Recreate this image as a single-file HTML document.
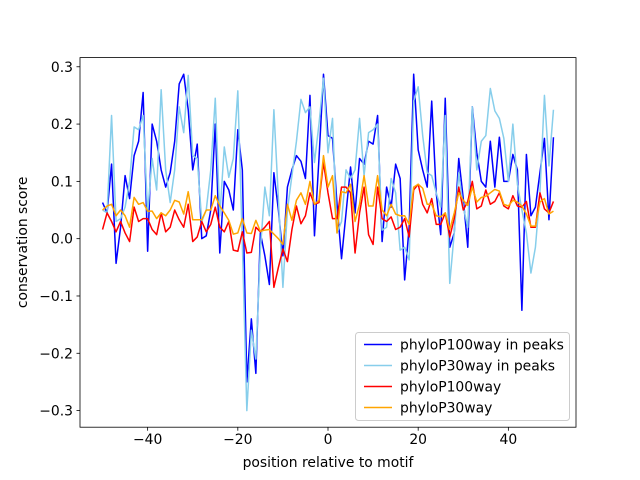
<!DOCTYPE html>
<html><head><meta charset="utf-8"><style>body{margin:0;background:#fff}svg{display:block;font-family:"DejaVu Sans","Liberation Sans",sans-serif}</style></head>
<body>
<svg id="chart" width="640" height="480" xmlns="http://www.w3.org/2000/svg"></svg>
<script>
const positions = []; for (let i = -50; i <= 50; i++) positions.push(i);
const blueVals = [0.063,0.045,0.13,-0.043,0.02,0.11,0.07,0.145,0.17,0.255,
-0.022,0.2,0.17,0.12,0.09,0.115,0.17,0.27,0.287,0.225,
0.12,0.165,0.0,0.005,0.05,0.2,-0.025,0.1,0.085,0.05,
0.19,0.12,-0.25,-0.14,-0.235,0.01,-0.03,-0.08,0.115,0.05,
-0.03,0.09,0.12,0.145,0.135,0.105,0.25,0.005,0.14,0.287,
0.18,0.175,0.06,-0.035,0.045,0.125,0.045,0.14,0.13,0.17,
0.165,0.215,-0.005,0.09,0.055,0.13,0.105,-0.072,0.02,0.287,
0.155,0.12,0.09,0.24,0.08,0.007,0.245,-0.015,0.01,0.14,
0.07,-0.015,0.23,0.15,0.1,0.09,0.17,0.09,0.177,0.1,
0.1,0.147,0.12,-0.125,0.147,0.04,0.055,0.115,0.175,0.033,0.177];
const lightVals = [0.05,0.045,0.215,0.03,0.035,0.055,0.1,0.195,0.19,0.215,
0.045,0.14,0.085,0.26,0.12,0.063,0.12,0.23,0.185,0.285,
0.145,0.14,0.03,0.05,0.12,0.245,0.04,0.16,0.107,0.14,
0.258,-0.007,-0.30,-0.16,-0.21,-0.02,0.09,0.04,0.225,0.07,
-0.085,0.05,0.11,0.17,0.243,0.22,0.23,0.133,0.2,0.28,
0.15,0.21,0.01,0.03,0.12,0.105,0.12,0.21,0.11,0.185,
0.19,0.2,0.015,0.02,0.105,0.08,-0.02,-0.015,-0.037,0.24,
0.265,0.18,0.115,0.11,0.08,0.055,0.215,-0.078,0.01,0.115,
0.055,0.02,0.23,0.12,0.17,0.18,0.262,0.223,0.21,0.175,
0.1,0.2,0.095,0.05,0.01,-0.06,-0.015,0.08,0.25,0.127,0.225];
const redVals = [0.016,0.045,0.03,0.012,0.03,0.01,-0.005,0.055,0.03,0.035,
0.035,0.016,0.007,0.045,0.012,0.02,0.05,0.033,0.02,0.06,
-0.005,0.003,0.03,0.012,0.025,0.055,0.02,0.012,0.03,-0.02,
-0.022,0.012,-0.025,-0.024,0.02,0.012,0.02,0.03,-0.085,-0.05,
-0.018,-0.04,0.016,0.057,0.026,0.04,0.08,0.06,0.063,0.133,
0.08,0.035,0.035,0.09,0.09,0.08,-0.025,0.045,0.09,0.007,
-0.01,0.09,0.035,0.03,0.038,0.016,0.02,0.035,0.003,0.085,
0.095,0.06,0.045,0.07,0.025,0.025,0.045,0.003,0.035,0.09,
0.05,0.065,0.1,0.052,0.057,0.085,0.06,0.065,0.08,0.057,
0.052,0.075,0.057,0.055,0.065,0.02,0.02,0.08,0.052,0.045,0.065];
const orangeVals = [0.05,0.057,0.06,0.04,0.05,0.04,0.02,0.072,0.06,0.063,
0.048,0.048,0.035,0.045,0.04,0.05,0.067,0.064,0.043,0.082,
0.033,0.033,0.033,0.05,0.05,0.075,0.057,0.045,0.032,0.008,
0.01,0.035,0.01,0.009,0.032,0.013,0.015,0.016,0.008,0.0,
-0.01,0.06,0.032,0.067,0.08,0.06,0.1,0.06,0.067,0.145,
0.09,0.11,0.01,0.082,0.08,0.095,0.03,0.06,0.11,0.057,
0.057,0.11,0.05,0.04,0.06,0.043,0.04,0.04,0.025,0.09,
0.095,0.088,0.06,0.06,0.04,0.038,0.045,0.016,0.045,0.08,
0.067,0.058,0.09,0.064,0.072,0.074,0.08,0.086,0.083,0.06,
0.057,0.067,0.064,0.057,0.043,0.022,0.022,0.064,0.07,0.043,0.048];
const seriesNames = ["phyloP100way in peaks","phyloP30way in peaks","phyloP100way","phyloP30way"];
const xTicks = [-40,-20,0,20,40];
const yTicks = [-0.3,-0.2,-0.1,0.0,0.1,0.2,0.3];
const yTickLabels = ["\u22120.3","\u22120.2","\u22120.1","0.0","0.1","0.2","0.3"];

const L=80,R=576,T=57.6,B=427.2;
const xMin=-55,xMax=55,yMin=-0.329,yMax=0.316;
const sx=v=>L+(v-xMin)/(xMax-xMin)*(R-L);
const sy=v=>B-(v-yMin)/(yMax-yMin)*(B-T);
const svg=document.getElementById('chart');
const NS='http://www.w3.org/2000/svg';
function mk(tag,attrs,parent){const e=document.createElementNS(NS,tag);for(const k in attrs)e.setAttribute(k,attrs[k]);(parent||svg).appendChild(e);return e;}

const colors=["#0000ff","#87ceeb","#ff0000","#ffa500"];
const allVals=[blueVals,lightVals,redVals,orangeVals];
const keys=["blue","light-blue","red","orange"];
allVals.forEach((vals,si)=>{
  const d=vals.map((v,i)=>(i?'L':'M')+sx(positions[i]).toFixed(2)+','+sy(v).toFixed(2)).join('');
  const p=mk('path',{d:d,fill:'none',stroke:colors[si],'stroke-width':1.5,'stroke-linejoin':'round'});
  
  
});

const frame=mk('rect',{x:L,y:T,width:R-L,height:B-T,fill:'none',stroke:'#000','stroke-width':0.8});



xTicks.forEach(t=>{
  const x=sx(t);
  const tk=mk('line',{x1:x,x2:x,y1:B,y2:B+3.5,stroke:'#000','stroke-width':0.8});
  
  
  const tx=mk('text',{x:x,y:B+17,'text-anchor':'middle','font-size':13.9,fill:'#000'});
  tx.textContent=t<0?'\u2212'+Math.abs(t):String(t);
  
  
});
yTicks.forEach((t,i)=>{
  const y=sy(t);
  const tk=mk('line',{x1:L-3.5,x2:L,y1:y,y2:y,stroke:'#000','stroke-width':0.8});
  
  
  const tx=mk('text',{x:L-7,y:y+5,'text-anchor':'end','font-size':13.9,fill:'#000'});
  tx.textContent=yTickLabels[i];
  
  
});
const xt=mk('text',{x:(L+R)/2,y:467,'text-anchor':'middle','font-size':13.9});
xt.textContent='position relative to motif';


const yt=mk('text',{x:0,y:0,'text-anchor':'middle','font-size':13.9,transform:'translate(27,'+((T+B)/2)+') rotate(-90)'});
yt.textContent='conservation score';



const lg=mk('g',{});


mk('rect',{x:355.5,y:332.5,width:214,height:88,rx:3,fill:'#fff','fill-opacity':0.8,stroke:'#ccc'},lg);
seriesNames.forEach((n,i)=>{
  const y=344.5+i*21;
  const e=mk('g',{},lg);
  
  
  mk('line',{x1:364,x2:392,y1:y,y2:y,stroke:colors[i],'stroke-width':1.5},e);
  const t=mk('text',{x:400,y:y+5,'font-size':13.9},e);
  t.textContent=n;
});
</script>
</body></html>
